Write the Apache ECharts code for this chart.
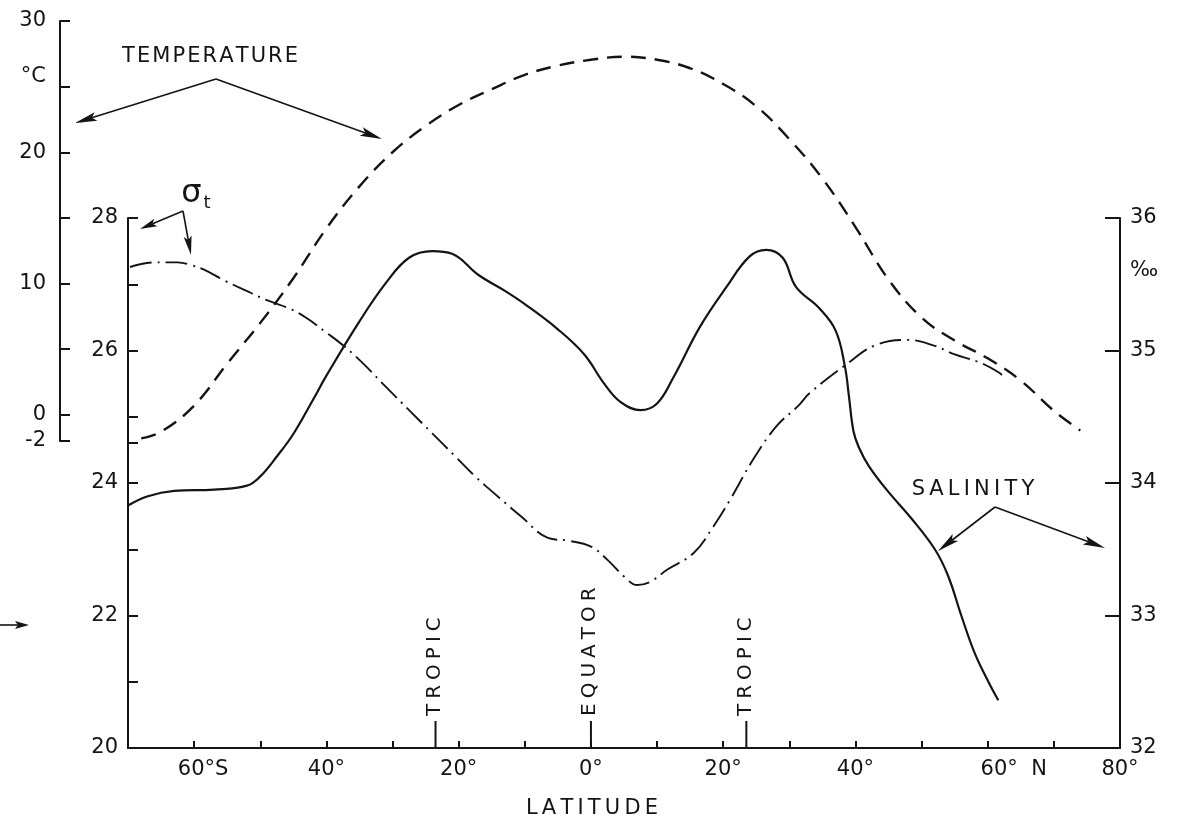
<!DOCTYPE html>
<html><head><meta charset="utf-8">
<script src="https://cdn.jsdelivr.net/npm/echarts@6/dist/echarts.min.js"></script>
<style>html,body{margin:0;padding:0;background:#fff}#c{width:1180px;height:822px}</style>
</head><body><div id="c"></div>
<script>
// ---- axis ticks & labels ----
const latTicks = [-60,-50,-40,-30,-20,-10,0,10,20,30,40,50,60,70];
const latLabelValues = [-60,-40,-20,0,20,40,60,80];
const latLabelTexts = ['{g|}60°S','40°','20°','0°','20°','40°','{h|}60°  N','80°'];
const sigmaTicks = [20,21,22,23,24,24.6,25,26,27,28];
const sigmaLabelValues = [20,22,24,26,28];
const salTicks = [32,33,34,35,36];
const salLabelValues = [32,33,34,35,35.6,36];
const salLabelTexts = ['32','33','34','35','‰','36'];
const tempTicks = [-2,0,5,10,15,20,25,30];
const tempLabelValues = [-2,0,10,20,25.8,30];
const tempLabelTexts = ['-2','0','10','20','°C','30'];
const markerLat = [-23.5, 0, 23.5];
const markerNames = ['TROPIC','EQUATOR','TROPIC'];

// ---- data: temperature (°C) ----
const tempLat = [-68,-65,-60,-55,-50,-45,-40,-35,-30,-25,-20,-15,-10,-5,0,5,10,15,20,25,30,35,40,45,50,55,60,65,70,74];
const tempVal = [-1.8,-1.3,0.7,3.9,7.0,10.4,14.2,17.4,20.0,22.0,23.6,24.8,25.9,26.6,27.05,27.28,27.05,26.4,25.2,23.5,21.0,18.0,14.3,10.3,7.4,5.65,4.3,2.6,0.3,-1.2];

// ---- data: salinity (‰) ----
const salLat = [-70,-67,-63,-57,-52,-50,-47.5,-45,-42,-40,-35,-31,-27.5,-24,-21,-17,-13,-10,-5,-1,2,4.5,7.5,10,12.5,16.5,20.5,24,26.5,29,31,34.5,37,38.4,39,39.7,40.5,42,44.7,48.5,52,54,56,58,60,61.6];
const salVal = [33.83,33.90,33.94,33.95,33.98,34.05,34.20,34.37,34.63,34.81,35.22,35.51,35.70,35.75,35.73,35.57,35.45,35.35,35.16,34.97,34.75,34.61,34.55,34.60,34.80,35.18,35.48,35.71,35.76,35.70,35.48,35.32,35.15,34.88,34.66,34.39,34.27,34.13,33.95,33.73,33.50,33.30,33.00,32.72,32.51,32.36];

// ---- data: sigma-t ----
const sigmaLat = [-69.7,-66,-62.5,-60.5,-58.5,-55.5,-52.5,-49,-45.5,-43,-40,-37.5,-34.5,-31,-27.5,-24,-20.5,-17.5,-14,-10.5,-6.5,-3.5,0,2.5,5,7,9,11.5,15.5,18.5,21,24.5,28,31.5,33,38.5,43,48,52,55,58.5,61.5,62.5];
const sigmaVal = [27.26,27.33,27.33,27.29,27.22,27.06,26.92,26.76,26.63,26.49,26.27,26.08,25.81,25.45,25.10,24.75,24.40,24.10,23.79,23.49,23.17,23.13,23.04,22.84,22.59,22.46,22.51,22.69,22.94,23.34,23.74,24.35,24.85,25.18,25.35,25.78,26.08,26.16,26.07,25.94,25.83,25.68,25.60];

const FONT = 'DejaVu Sans';
const INK = '#141414';
const zip = (a, b) => a.map((v, i) => [v, b[i]]);
const spaced = (s, sp) => s.split('').join(sp);
const lookup = (vals, texts) => v => { const i = vals.findIndex(x => Math.abs(x - v) < 1e-6); return i < 0 ? '' : texts[i]; };

const chart = echarts.init(document.getElementById('c'), null, {renderer: 'canvas'});

function arrow(x1, y1, x2, y2, L = 22, W = 4.5) {
  const a = Math.atan2(y2 - y1, x2 - x1), c = Math.cos(a), s = Math.sin(a);
  const bx = x2 - L * c, by = y2 - L * s;
  const nx = x2 - 0.8 * L * c, ny = y2 - 0.8 * L * s;
  return [
    {type: 'line', shape: {x1, y1, x2: nx, y2: ny}, style: {stroke: INK, lineWidth: 1.6}},
    {type: 'polygon', shape: {points: [[x2, y2], [bx - W * s, by + W * c], [nx, ny], [bx + W * s, by - W * c]]}, style: {fill: INK}}
  ];
}

const axisLabelBase = {color: INK, fontFamily: FONT, fontSize: 21};

chart.setOption({
  animation: false,
  backgroundColor: '#fff',
  grid: [
    {left: 128, right: 60, top: 218, height: 530, outerBoundsMode: 'none', containLabel: false},
    {left: 128, right: 60, top: 21, height: 420, outerBoundsMode: 'none', containLabel: false}
  ],
  xAxis: [
    {gridIndex: 0, type: 'value', min: -70, max: 80, interval: 10,
     axisLine: {show: true, onZero: false, lineStyle: {color: INK, width: 2}},
     axisTick: {show: true, inside: true, length: 7, customValues: latTicks, lineStyle: {color: INK, width: 2}},
     axisLabel: Object.assign({}, axisLabelBase, {margin: 11, customValues: latLabelValues,
       formatter: lookup(latLabelValues, latLabelTexts), rich: {g: {width: 18}, h: {width: 52}}}),
     splitLine: {show: false},
     name: spaced('LATITUDE', '\u2009'), nameLocation: 'middle', nameGap: 50,
     nameTextStyle: {color: INK, fontFamily: FONT, fontSize: 21, padding: [0, 64, 0, 0]}},
    {gridIndex: 1, type: 'value', min: -70, max: 80, show: false}
  ],
  yAxis: [
    {gridIndex: 0, type: 'value', position: 'left', min: 20, max: 28, interval: 1,
     axisLine: {show: true, onZero: false, lineStyle: {color: INK, width: 2}},
     axisTick: {show: true, inside: true, length: 10, customValues: sigmaTicks, lineStyle: {color: INK, width: 2}},
     axisLabel: Object.assign({}, axisLabelBase, {margin: 10, customValues: sigmaLabelValues}),
     splitLine: {show: false}},
    {gridIndex: 0, type: 'value', position: 'right', min: 32, max: 36, interval: 1,
     axisLine: {show: true, onZero: false, lineStyle: {color: INK, width: 2}},
     axisTick: {show: true, inside: true, length: 15, customValues: salTicks, lineStyle: {color: INK, width: 2}},
     axisLabel: Object.assign({}, axisLabelBase, {margin: 10, customValues: salLabelValues, formatter: lookup(salLabelValues, salLabelTexts)}),
     splitLine: {show: false}},
    {gridIndex: 1, type: 'value', position: 'left', offset: 68, min: -2, max: 30,
     axisLine: {show: true, onZero: false, lineStyle: {color: INK, width: 2}},
     axisTick: {show: true, inside: true, length: 10, customValues: tempTicks, lineStyle: {color: INK, width: 2}},
     axisLabel: Object.assign({}, axisLabelBase, {margin: 14, customValues: tempLabelValues, formatter: lookup(tempLabelValues, tempLabelTexts)}),
     splitLine: {show: false}}
  ],
  series: [
    {name: 'Temperature', type: 'line', xAxisIndex: 1, yAxisIndex: 2, data: zip(tempLat, tempVal),
     smooth: 0.4, showSymbol: false, silent: true, clip: false,
     lineStyle: {color: INK, width: 2.4, type: [15, 9]}},
    {name: 'Salinity', type: 'line', xAxisIndex: 0, yAxisIndex: 1, data: zip(salLat, salVal),
     smooth: 0.4, showSymbol: false, silent: true, clip: false,
     lineStyle: {color: INK, width: 2.2}},
    {name: 'Sigma-t', type: 'line', xAxisIndex: 0, yAxisIndex: 0, data: zip(sigmaLat, sigmaVal),
     smooth: 0.4, showSymbol: false, silent: true, clip: false,
     lineStyle: {color: INK, width: 1.9, type: [22, 6, 2, 6]}},
    {name: 'Markers', type: 'custom', xAxisIndex: 0, yAxisIndex: 0, silent: true, clip: false,
     data: markerLat.map(v => [v]),
     renderItem: function (params, api) {
       const p = api.coord([api.value(0), 20]);
       const top = p[1] - 27;
       return {type: 'group', children: [
         {type: 'line', shape: {x1: p[0], y1: p[1], x2: p[0], y2: top}, style: {stroke: INK, lineWidth: 2}},
         {type: 'text', x: p[0] - 1, y: top - 5, rotation: Math.PI / 2,
          style: {text: spaced(markerNames[params.dataIndex], '\u2005'), fontFamily: FONT, fontSize: 20, fill: INK, align: 'left', verticalAlign: 'middle'}}
       ]};
     }}
  ],
  graphic: [
    {type: 'text', x: 210, y: 57, style: {text: spaced('TEMPERATURE', '\u200A'), fontFamily: FONT, fontSize: 21, fill: INK, align: 'center', verticalAlign: 'middle'}},
    ...arrow(216, 79, 75, 123),
    ...arrow(216, 79, 382, 139),
    {type: 'text', x: 196, y: 194, style: {text: '{s|σ}{t|t}', fill: INK, align: 'center', verticalAlign: 'middle',
      rich: {s: {fontFamily: FONT, fontSize: 32, fill: INK}, t: {fontFamily: FONT, fontSize: 18, fill: INK, padding: [18, 0, 0, 2]}}}},
    ...arrow(183, 211, 140, 229, 17, 4),
    ...arrow(183, 211, 191, 255, 19, 4),
    {type: 'text', x: 973, y: 490, style: {text: spaced('SALINITY', '\u2009'), fontFamily: FONT, fontSize: 21, fill: INK, align: 'center', verticalAlign: 'middle'}},
    ...arrow(995, 507, 938, 551),
    ...arrow(995, 507, 1105, 548),
    ...arrow(0, 625, 29, 625, 14, 4)
  ]
});
</script>
</body></html>
